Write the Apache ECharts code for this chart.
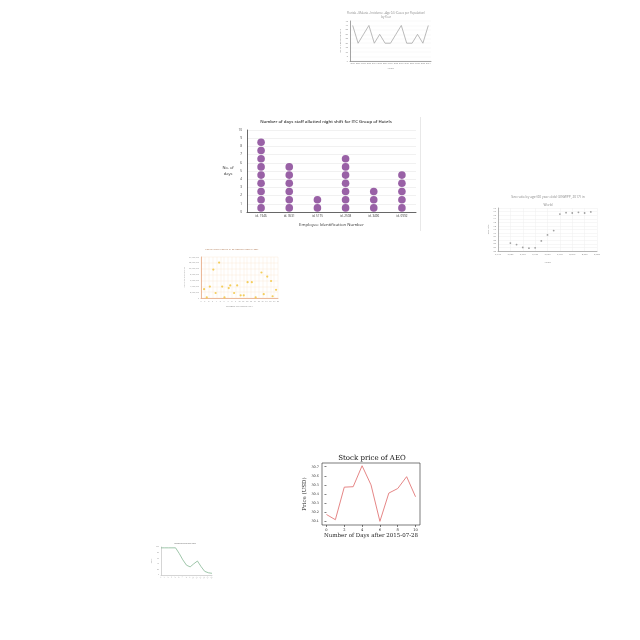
<!DOCTYPE html>
<html><head><meta charset="utf-8">
<script src="https://cdn.jsdelivr.net/npm/echarts@6/dist/echarts.min.js"></script>
<style>html,body{margin:0;padding:0;background:#fff}#c{width:640px;height:640px}</style>
</head><body><div id="c"></div>
<script>
// ---- top small line chart ----
const topYears = ['2000','2001','2002','2003','2004','2005','2006','2007','2008','2009','2010','2011','2012','2013','2014'];
const topValues = [40,20,30,40,20,30,20,20,30,40,20,20,30,20,40];
// ---- main dot plot ----
const dotCategories = ['id. 1946','id. 0531','id. 5175','id. 2508','id. 3496','id. 0992'];
const dotValues = [9,6,2,7,3,5];
// ---- sex ratio scatter ----
const sexYears = [1950,1955,1960,1965,1970,1975,1980,1985,1990,1995,2000,2005,2010,2015];
const sexValues = [87.2,86.8,86.0,85.8,85.9,87.8,89.5,90.7,95.3,95.7,95.6,95.8,95.6,95.9];
// ---- population scatter ----
const popCity = [0.8,1.5,2.3,3.2,3.8,4.7,5.5,6.1,7.2,7.6,8.6,9.4,10.3,11.1,12.1,13.2,14.2,15.7,16.3,17.2,18.2,18.6,19.5];
const popCount = [3000000,200000,3900000,9700000,1700000,12100000,3900000,200000,3400000,4300000,1700000,4300000,900000,900000,5400000,5400000,200000,8700000,1300000,7300000,5800000,600000,2800000];
// ---- stock price ----
const stockDays = [0,1,2,3,4,5,6,7,8,9,10];
const stockPrice = [30.175,30.118,30.475,30.48,30.71,30.5,30.10,30.41,30.46,30.59,30.37];
const stockTicksX = [0,2,4,6,8,10];
const stockTicksY = [30.1,30.2,30.3,30.4,30.5,30.6,30.7];
// ---- bottom-left small line ----
const smallX = ['1','2','3','4','5','6','7','8','9','10','11','12','13','14','15'];
const smallValues = [97,97,97,97,97,77,54,35,29,40,50,30,13,8,6];

const dotPoints = [];
dotValues.forEach((v, i) => { for (let k = 0; k < v; k++) dotPoints.push([i, k + 0.5]); });

const chart = echarts.init(document.getElementById('c'), null, {renderer: 'canvas'});
const sans = 'Open Sans';
const serif = 'DejaVu Serif';

chart.setOption({
  animation: false,
  backgroundColor: '#fff',
  title: [
    {text: 'Florida - Malaria - Incidence - Age 0-5 (Cases per Population)\nby Year', left: 386, top: 11, textAlign: 'center', padding: 0,
     textStyle: {fontSize: 2.8, lineHeight: 4, color: '#888', fontWeight: 'normal', fontFamily: sans}},
    {text: 'Number of days staff allotted night shift for ITC Group of Hotels', left: 326, top: 120, textAlign: 'center', padding: 0,
     textStyle: {fontSize: 4.3, color: '#333', fontWeight: 600, fontFamily: sans}},
    {text: 'Sex ratio by age (60 year olds) (UNWPP, 2017) in\nWorld', left: 548, top: 193, textAlign: 'center', padding: 0,
     textStyle: {fontSize: 3.3, lineHeight: 8, color: '#888', fontWeight: 'normal', fontFamily: sans}},
    {text: 'POPULATION COUNT IN 20 METRO CITIES IN 2001', left: 232, top: 248.5, textAlign: 'center', padding: 0,
     textStyle: {fontSize: 2.3, color: '#b07a55', fontWeight: 'normal', fontFamily: sans}},
    {text: 'Stock price of AEO', left: 372, top: 454.5, textAlign: 'center', padding: 0,
     textStyle: {fontSize: 7, color: '#111', fontWeight: 'normal', fontFamily: serif}},
    {text: 'Portfolio value over time', left: 185, top: 542.5, textAlign: 'center', padding: 0,
     textStyle: {fontSize: 1.9, color: '#666', fontWeight: 'normal', fontFamily: sans}}
  ],
  graphic: [
    {type: 'line', shape: {x1: 420.5, y1: 117, x2: 420.5, y2: 231}, style: {stroke: '#e8e8e8', lineWidth: 1}}
  ],
  grid: [
    {left: 350, top: 21, width: 81, height: 40},
    {left: 247, top: 130, width: 169, height: 82},
    {left: 498, top: 208, width: 99, height: 43},
    {left: 201, top: 257, width: 77, height: 41},
    {left: 322, top: 463, width: 98, height: 62, show: true, borderColor: '#222', borderWidth: 0.6, backgroundColor: 'transparent'},
    {left: 161, top: 547, width: 51, height: 28}
  ],
  xAxis: [
    {gridIndex: 0, type: 'category', data: topYears, boundaryGap: true,
     axisLine: {lineStyle: {color: '#666', width: 0.6}}, axisTick: {show: false},
     axisLabel: {fontSize: 2, color: '#888', margin: 1.5, interval: 0},
     name: 'Years', nameLocation: 'middle', nameGap: 6, nameTextStyle: {fontSize: 2.5, color: '#888'}},
    {gridIndex: 1, type: 'category', data: dotCategories,
     axisLine: {lineStyle: {color: '#444', width: 0.8}}, axisTick: {show: false},
     axisLabel: {fontSize: 3, color: '#333', margin: 3, interval: 0, fontFamily: sans},
     name: 'Employee Identification Number', nameLocation: 'middle', nameGap: 11,
     nameTextStyle: {fontSize: 4.3, color: '#333', fontFamily: sans}},
    {gridIndex: 2, type: 'value', min: 1940, max: 2020, interval: 10,
     axisLine: {lineStyle: {color: '#888', width: 0.6}}, axisTick: {show: false},
     splitLine: {show: true, lineStyle: {color: '#eee', width: 0.5}},
     axisLabel: {fontSize: 2.4, color: '#888', margin: 2},
     name: 'Years', nameLocation: 'middle', nameGap: 10, nameTextStyle: {fontSize: 2.5, color: '#888'}},
    {gridIndex: 3, type: 'value', min: 0, max: 20, interval: 1,
     axisLine: {lineStyle: {color: '#e39c74', width: 0.7}}, axisTick: {show: false},
     splitLine: {show: true, lineStyle: {color: '#fbe3d0', width: 0.4}},
     axisLabel: {fontSize: 2, color: '#999', margin: 2},
     name: 'NUMBER OF METRO CITY', nameLocation: 'middle', nameGap: 7, nameTextStyle: {fontSize: 2.2, color: '#999'}},
    {gridIndex: 4, type: 'value', min: -0.5, max: 10.5,
     axisLine: {show: false},
     axisTick: {show: true, customValues: stockTicksX, length: 2, inside: false, lineStyle: {color: '#000', width: 0.5}},
     axisLabel: {customValues: stockTicksX, fontSize: 3.6, color: '#222', margin: 3, fontFamily: serif},
     splitLine: {show: false},
     name: 'Number of Days after 2015-07-28', nameLocation: 'middle', nameGap: 7,
     nameTextStyle: {fontSize: 5.5, color: '#222', fontFamily: serif}},
    {gridIndex: 5, type: 'category', data: smallX, boundaryGap: false,
     axisLine: {lineStyle: {color: '#aaa', width: 0.5}}, axisTick: {show: false},
     axisLabel: {fontSize: 1.8, color: '#999', margin: 2, interval: 0, rotate: 45}}
  ],
  yAxis: [
    {gridIndex: 0, type: 'value', min: 0, max: 45, interval: 5,
     axisLine: {show: true, lineStyle: {color: '#666', width: 0.6}}, axisTick: {show: false},
     splitLine: {lineStyle: {color: '#eee', width: 0.4}},
     axisLabel: {fontSize: 2.2, color: '#888', margin: 2},
     name: 'No. of Infected Persons', nameLocation: 'middle', nameRotate: 90, nameGap: 7,
     nameTextStyle: {fontSize: 2.3, color: '#888'}},
    {gridIndex: 1, type: 'value', min: 0, max: 10, interval: 1,
     axisLine: {show: true, lineStyle: {color: '#444', width: 0.8}}, axisTick: {show: false},
     splitLine: {lineStyle: {color: '#e2e2e2', width: 0.5}},
     axisLabel: {fontSize: 3, color: '#333', margin: 5, fontFamily: sans},
     name: 'No. of\ndays', nameLocation: 'middle', nameRotate: 0, nameGap: 15,
     nameTextStyle: {fontSize: 4, lineHeight: 6, color: '#333', align: 'center', fontFamily: sans}},
    {gridIndex: 2, type: 'value', min: 85, max: 97, interval: 1,
     axisLine: {show: true, lineStyle: {color: '#888', width: 0.6}}, axisTick: {show: false},
     splitLine: {lineStyle: {color: '#eee', width: 0.5}},
     axisLabel: {fontSize: 2.3, color: '#888', margin: 2},
     name: 'Sex ratio', nameLocation: 'middle', nameRotate: 90, nameGap: 7,
     nameTextStyle: {fontSize: 2.4, color: '#888'}},
    {gridIndex: 3, type: 'value', min: 0, max: 14000000, interval: 2000000,
     axisLine: {show: true, lineStyle: {color: '#e39c74', width: 0.7}}, axisTick: {show: false},
     splitLine: {lineStyle: {color: '#fbe3d0', width: 0.4}},
     axisLabel: {fontSize: 2, color: '#999', margin: 2},
     name: 'POPULATION COUNT', nameLocation: 'middle', nameRotate: 90, nameGap: 13,
     nameTextStyle: {fontSize: 2, color: '#999'}},
    {gridIndex: 4, type: 'value', min: 30.06, max: 30.74,
     axisLine: {show: false},
     axisTick: {show: true, customValues: stockTicksY, length: 2, lineStyle: {color: '#000', width: 0.5}},
     axisLabel: {customValues: stockTicksY, fontSize: 3.4, color: '#222', margin: 3, fontFamily: serif,
                 formatter: v => Number(v).toFixed(1)},
     splitLine: {show: false},
     name: 'Price (USD)', nameLocation: 'middle', nameRotate: 90, nameGap: 11,
     nameTextStyle: {fontSize: 5.5, color: '#222', fontFamily: serif}},
    {gridIndex: 5, type: 'value', min: 0, max: 100, interval: 20,
     axisLine: {show: true, lineStyle: {color: '#aaa', width: 0.5}}, axisTick: {show: false},
     splitLine: {show: false},
     axisLabel: {fontSize: 1.8, color: '#999', margin: 2},
     name: 'Value', nameLocation: 'middle', nameRotate: 90, nameGap: 6,
     nameTextStyle: {fontSize: 1.8, color: '#999'}}
  ],
  series: [
    {type: 'line', xAxisIndex: 0, yAxisIndex: 0, data: topValues, symbol: 'none',
     lineStyle: {color: '#a8a8a8', width: 0.8}},
    {type: 'scatter', xAxisIndex: 1, yAxisIndex: 1, data: dotPoints, symbolSize: 7.6,
     itemStyle: {color: '#7f3a90'}},
    {type: 'scatter', xAxisIndex: 2, yAxisIndex: 2, data: sexYears.map((y, i) => [y, sexValues[i]]), symbolSize: 1.8,
     itemStyle: {color: '#8a8a8a'}},
    {type: 'scatter', xAxisIndex: 3, yAxisIndex: 3, data: popCity.map((c, i) => [c, popCount[i]]), symbolSize: 2.2,
     itemStyle: {color: '#f3c94a', opacity: 0.9}},
    {type: 'line', xAxisIndex: 4, yAxisIndex: 4, data: stockDays.map((d, i) => [d, stockPrice[i]]), symbol: 'none',
     lineStyle: {color: '#e27878', width: 0.9}},
    {type: 'line', xAxisIndex: 5, yAxisIndex: 5, data: smallValues, symbol: 'none',
     lineStyle: {color: '#86b894', width: 0.8}}
  ]
});
</script></body></html>
